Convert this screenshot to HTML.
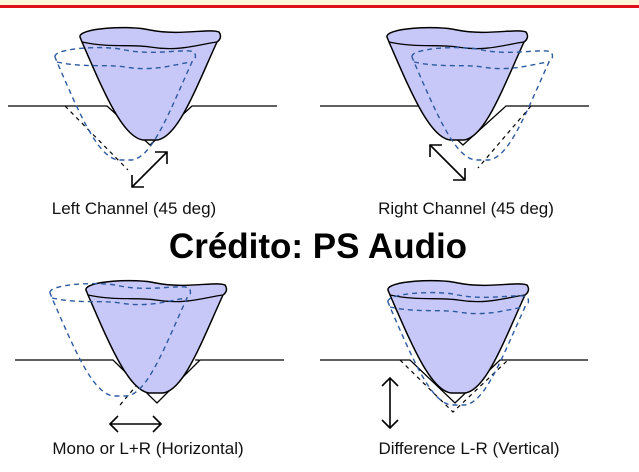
<!DOCTYPE html><html><head><meta charset="utf-8"><style>body{margin:0;background:#fff}svg{display:block}text{font-family:"Liberation Sans",sans-serif}</style></head><body>
<svg width="639" height="472" viewBox="0 0 639 472" xmlns="http://www.w3.org/2000/svg">
<defs>
<g id="cone"><path d="M-70,-103 C-72,-112 -20,-115 0,-110 C30,-104 60,-112 69,-108 C72,-104 70,-100 67,-98 C45,-50 28,-3 7,0 L-7,0 C-28,-3 -47,-50 -68,-98 Z" fill="#c8c8f8" stroke="#000" stroke-width="1.5"/><path d="M-68,-98 C-40,-92 -20,-96 0,-93 C30,-88 50,-96 67,-98" fill="none" stroke="#000" stroke-width="1.3"/></g>
<g id="dcone" fill="none" stroke="#2c5aa0" stroke-width="1.4" stroke-dasharray="5,4"><path d="M-70,-103 C-72,-112 -20,-115 0,-110 C30,-104 60,-112 69,-108 C72,-104 70,-100 67,-98 C45,-50 28,-3 7,0 L-7,0 C-28,-3 -47,-50 -68,-98 Z"/><path d="M-68,-98 C-40,-92 -20,-96 0,-93 C30,-88 50,-96 67,-98"/></g>
</defs>
<rect x="0" y="0" width="639" height="5" fill="#fbf6d8"/><rect x="0" y="5" width="639" height="3" fill="#e0101a"/>
<g stroke="#000" stroke-width="1.3" fill="none">
<path d="M8,106 H107 L150,145 L192,106 H277"/>
<path d="M320,106 H420 L463,145 L506,106 H589"/>
<path d="M15,360 H113 L157,403 L200,360 H284"/>
<path d="M320,360 H410 L455,403 L500,360 H588"/>
</g>
<g stroke="#000" stroke-width="1.2" stroke-dasharray="4,4" fill="none">
<path d="M65,106 L128,170"/><path d="M531,106 L478,168"/>
<path d="M120,405 L158,360 H200"/><path d="M400,360 L453,412 L508,360"/>
</g>
<use href="#cone" x="150" y="140"/><use href="#dcone" x="125" y="160"/>
<use href="#cone" x="457" y="140"/><use href="#dcone" x="482" y="160"/>
<use href="#cone" x="156" y="393"/><use href="#dcone" x="120" y="396"/>
<use href="#cone" x="458" y="393"/><use href="#dcone" x="458" y="405"/>
<g stroke="#000" stroke-width="1.6" fill="none">
<path d="M132,187 L167,152 M155,152 H167 V164 M132,175 V187 H144"/>
<path d="M430,145 L465,180 M430,157 V145 H442 M453,180 H465 V168"/>
<path d="M110,424 H161 M118,416 L110,424 L118,432 M153,416 L161,424 L153,432"/>
<path d="M390,378 V428 M382,386 L390,378 L398,386 M382,420 L390,428 L398,420"/>
</g>
<g font-size="17" fill="#111" text-anchor="middle">
<text x="134" y="214">Left Channel (45 deg)</text>
<text x="466" y="214">Right Channel (45 deg)</text>
<text x="148" y="454">Mono or L+R (Horizontal)</text>
<text x="469" y="454">Difference L-R (Vertical)</text>
</g>
<text x="318" y="258" font-size="35" font-weight="bold" text-anchor="middle" fill="#000">Crédito: PS Audio</text>
</svg></body></html>
